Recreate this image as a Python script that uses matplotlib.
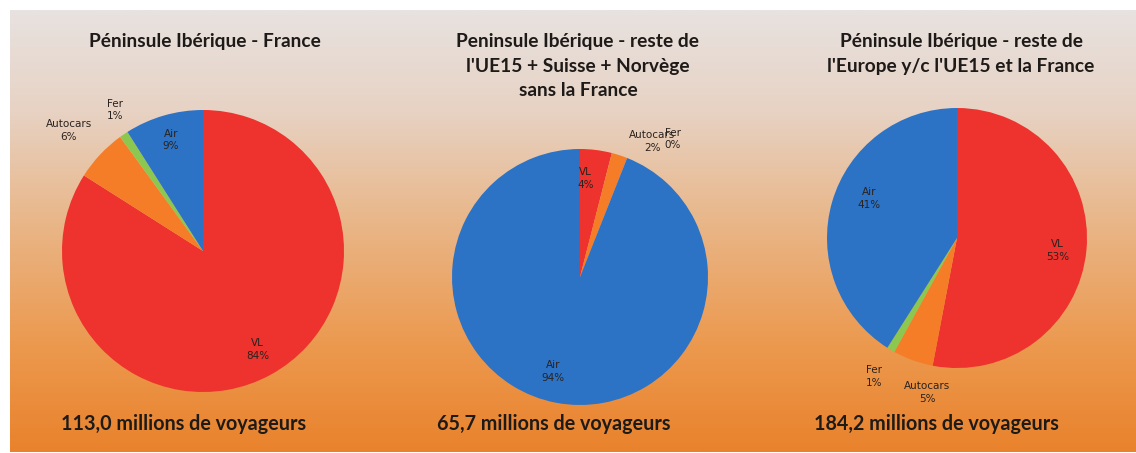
import numpy as np
import matplotlib
matplotlib.use("Agg")
import matplotlib.pyplot as plt
from matplotlib.colors import LinearSegmentedColormap

# ---- data -------------------------------------------------------------
modes = ["VL", "Autocars", "Fer", "Air"]
share_france = [84, 6, 1, 9]
share_ue15 = [4, 2, 0, 94]
share_europe = [53, 5, 1, 41]
titles = [
    "Péninsule Ibérique - France",
    "Peninsule Ibérique - reste de\nl'UE15 + Suisse + Norvège\nsans la France",
    "Péninsule Ibérique - reste de\nl'Europe y/c l'UE15 et la France",
]
totals = ["113,0", "65,7", "184,2"]

# ---- style ------------------------------------------------------------
W, H, DPI = 1136, 453, 100
colors = ["#EE322D", "#F57D28", "#8CC850", "#2C73C6"]
title_font = ["Lato", "DejaVu Sans"]
text_col = "#1e1a18"
label_col = "#2a221e"

# pie centre / radius in pixels (from top-left)
pie_geom = [(203, 251, 141), (580, 277, 128), (957, 238, 130)]
title_x = [205, 578, 961]
total_x = [184, 554, 936]
# per-slice label placement: (angle offset in degrees, radial distance)
label_place = [
    [(0, 0.80), (1.2, 1.28), (-2.2, 1.18), (0, 0.82)],
    [(4, 0.77), (-10, 1.20), (-12.4, 1.30), (-5, 0.77)],
    [(-1.6, 0.78), (8.8, 1.21), (-0.4, 1.24), (-8, 0.74)],
]

fig = plt.figure(figsize=(W / DPI, H / DPI), dpi=DPI)
fig.patch.set_facecolor("white")

# slide background with a vertical gradient
bg = fig.add_axes([10 / W, 1 / H, 1 - 10 / W, (H - 11) / H])
bg.set_axis_off()
stops = [
    (0.00, "#E8E2E0"),
    (0.22, "#E7D3C5"),
    (0.50, "#E9B484"),
    (0.75, "#EC9A50"),
    (1.00, "#E9822C"),
]
cmap = LinearSegmentedColormap.from_list("slide", stops)
grad = np.linspace(0, 1, 256).reshape(-1, 1)
bg.imshow(grad, aspect="auto", cmap=cmap, extent=[0, 1, 1, 0])
bg.set_xlim(0, 1)
bg.set_ylim(1, 0)

datasets = [share_france, share_ue15, share_europe]
for k, values in enumerate(datasets):
    cx, cy, r = pie_geom[k]
    ax = fig.add_axes([(cx - r) / W, 1 - (cy + r) / H, 2 * r / W, 2 * r / H])
    wedges, _ = ax.pie(values, colors=colors, startangle=90, counterclock=False,
                       radius=1, wedgeprops=dict(linewidth=0))
    ax.set_xlim(-1, 1)
    ax.set_ylim(-1, 1)
    ax.set_aspect("equal")
    ax.set_axis_off()
    for i, w in enumerate(wedges):
        mid = 0.5 * (w.theta1 + w.theta2)
        off, dist = label_place[k][i]
        ang = np.deg2rad(mid + off)
        ax.text(dist * np.cos(ang), dist * np.sin(ang),
                f"{modes[i]}\n{values[i]}%", ha="center", va="center",
                fontsize=7.5, color=label_col, linespacing=1.35, clip_on=False)

    fig.text(title_x[k] / W, 1 - 33 / H, titles[k], ha="center", va="top",
             fontsize=13.8, fontweight="bold", family=title_font, color=text_col,
             linespacing=1.55)
    fig.text(total_x[k] / W, 1 - 424 / H, f"{totals[k]} millions de voyageurs",
             ha="center", va="center", fontsize=14.2, fontweight="bold",
             family=title_font, color=text_col)

fig.savefig("out.png", dpi=DPI, facecolor=fig.get_facecolor())
